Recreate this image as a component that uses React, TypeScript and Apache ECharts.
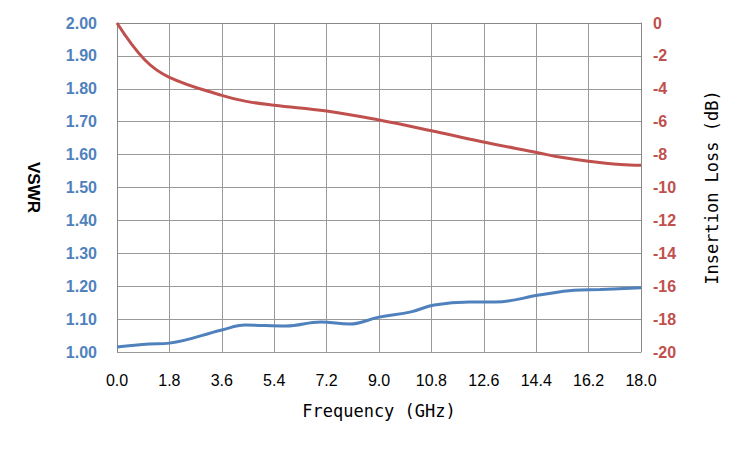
import React, { useEffect, useRef } from "react";
import * as echarts from "echarts";

const freqVswr = [0, 1.1, 1.8, 3.6, 4.4, 5.8, 7.0, 8.0, 9.0, 10.1, 10.9, 12.1, 13.0, 14.5, 15.7, 16.6, 18.0];
const vswr = [1.015, 1.024, 1.027, 1.067, 1.082, 1.079, 1.091, 1.085, 1.106, 1.122, 1.143, 1.152, 1.152, 1.173, 1.188, 1.19, 1.195];
const freqLoss = [0, 0.96, 1.8, 3.6, 4.4, 5.4, 7.2, 9.0, 10.8, 12.5, 14.5, 15.2, 16.2, 17.3, 18.0];
const loss = [0, -2.25, -3.3, -4.4, -4.75, -5.0, -5.35, -5.9, -6.55, -7.2, -7.9, -8.15, -8.4, -8.6, -8.65];

const BLUE = "#4F81BD";
const RED = "#C0504D";

export default function App() {
  const ref = useRef<HTMLDivElement>(null);
  useEffect(() => {
    document.body.style.margin = "0";
    const chart = echarts.init(ref.current!, null, { renderer: "svg" });
    const labelFont = { fontFamily: "Liberation Sans", fontWeight: "bold", fontSize: 16 };
    chart.setOption({
      animation: false,
      grid: { left: 117, right: 109, top: 23, bottom: 98 },
      xAxis: {
        type: "value", min: 0, max: 18, interval: 1.8,
        name: "Frequency (GHz)", nameLocation: "middle", nameGap: 50,
        nameTextStyle: { fontFamily: "DejaVu Sans Mono", fontSize: 17, color: "#000" },
        axisLabel: { formatter: (v: number) => v.toFixed(1), fontFamily: "Liberation Sans", fontSize: 16, color: "#000", margin: 20 },
        axisLine: { lineStyle: { color: "#888" } },
        axisTick: { show: false },
        splitLine: { lineStyle: { color: "#999" } },
      },
      yAxis: [
        {
          type: "value", min: 1, max: 2, interval: 0.1, position: "left",
          name: "VSWR", nameLocation: "middle", nameRotate: -90, nameGap: 75,
          nameTextStyle: { fontFamily: "Liberation Sans", fontWeight: "bold", fontSize: 17, color: "#000" },
          axisLabel: { ...labelFont, color: BLUE, formatter: (v: number) => v.toFixed(2), margin: 20 },
          axisLine: { show: true, lineStyle: { color: "#888" } },
          axisTick: { show: false },
          splitLine: { lineStyle: { color: "#999" } },
        },
        {
          type: "value", min: -20, max: 0, interval: 2, position: "right",
          name: "Insertion Loss (dB)", nameLocation: "middle", nameRotate: 90, nameGap: 62,
          nameTextStyle: { fontFamily: "DejaVu Sans Mono", fontSize: 17, color: "#000" },
          axisLabel: { ...labelFont, color: RED, margin: 12 },
          axisLine: { show: true, lineStyle: { color: "#888" } },
          axisTick: { show: false },
          splitLine: { show: false },
        },
      ],
      series: [
        {
          type: "line", yAxisIndex: 0, smooth: 0.4, showSymbol: false,
          lineStyle: { color: BLUE, width: 3 },
          data: freqVswr.map((f, i) => [f, vswr[i]]),
        },
        {
          type: "line", yAxisIndex: 1, smooth: 0.4, showSymbol: false,
          lineStyle: { color: RED, width: 3 },
          data: freqLoss.map((f, i) => [f, loss[i]]),
        },
      ],
    });
    return () => chart.dispose();
  }, []);
  return <div ref={ref} style={{ width: 750, height: 450 }} />;
}
